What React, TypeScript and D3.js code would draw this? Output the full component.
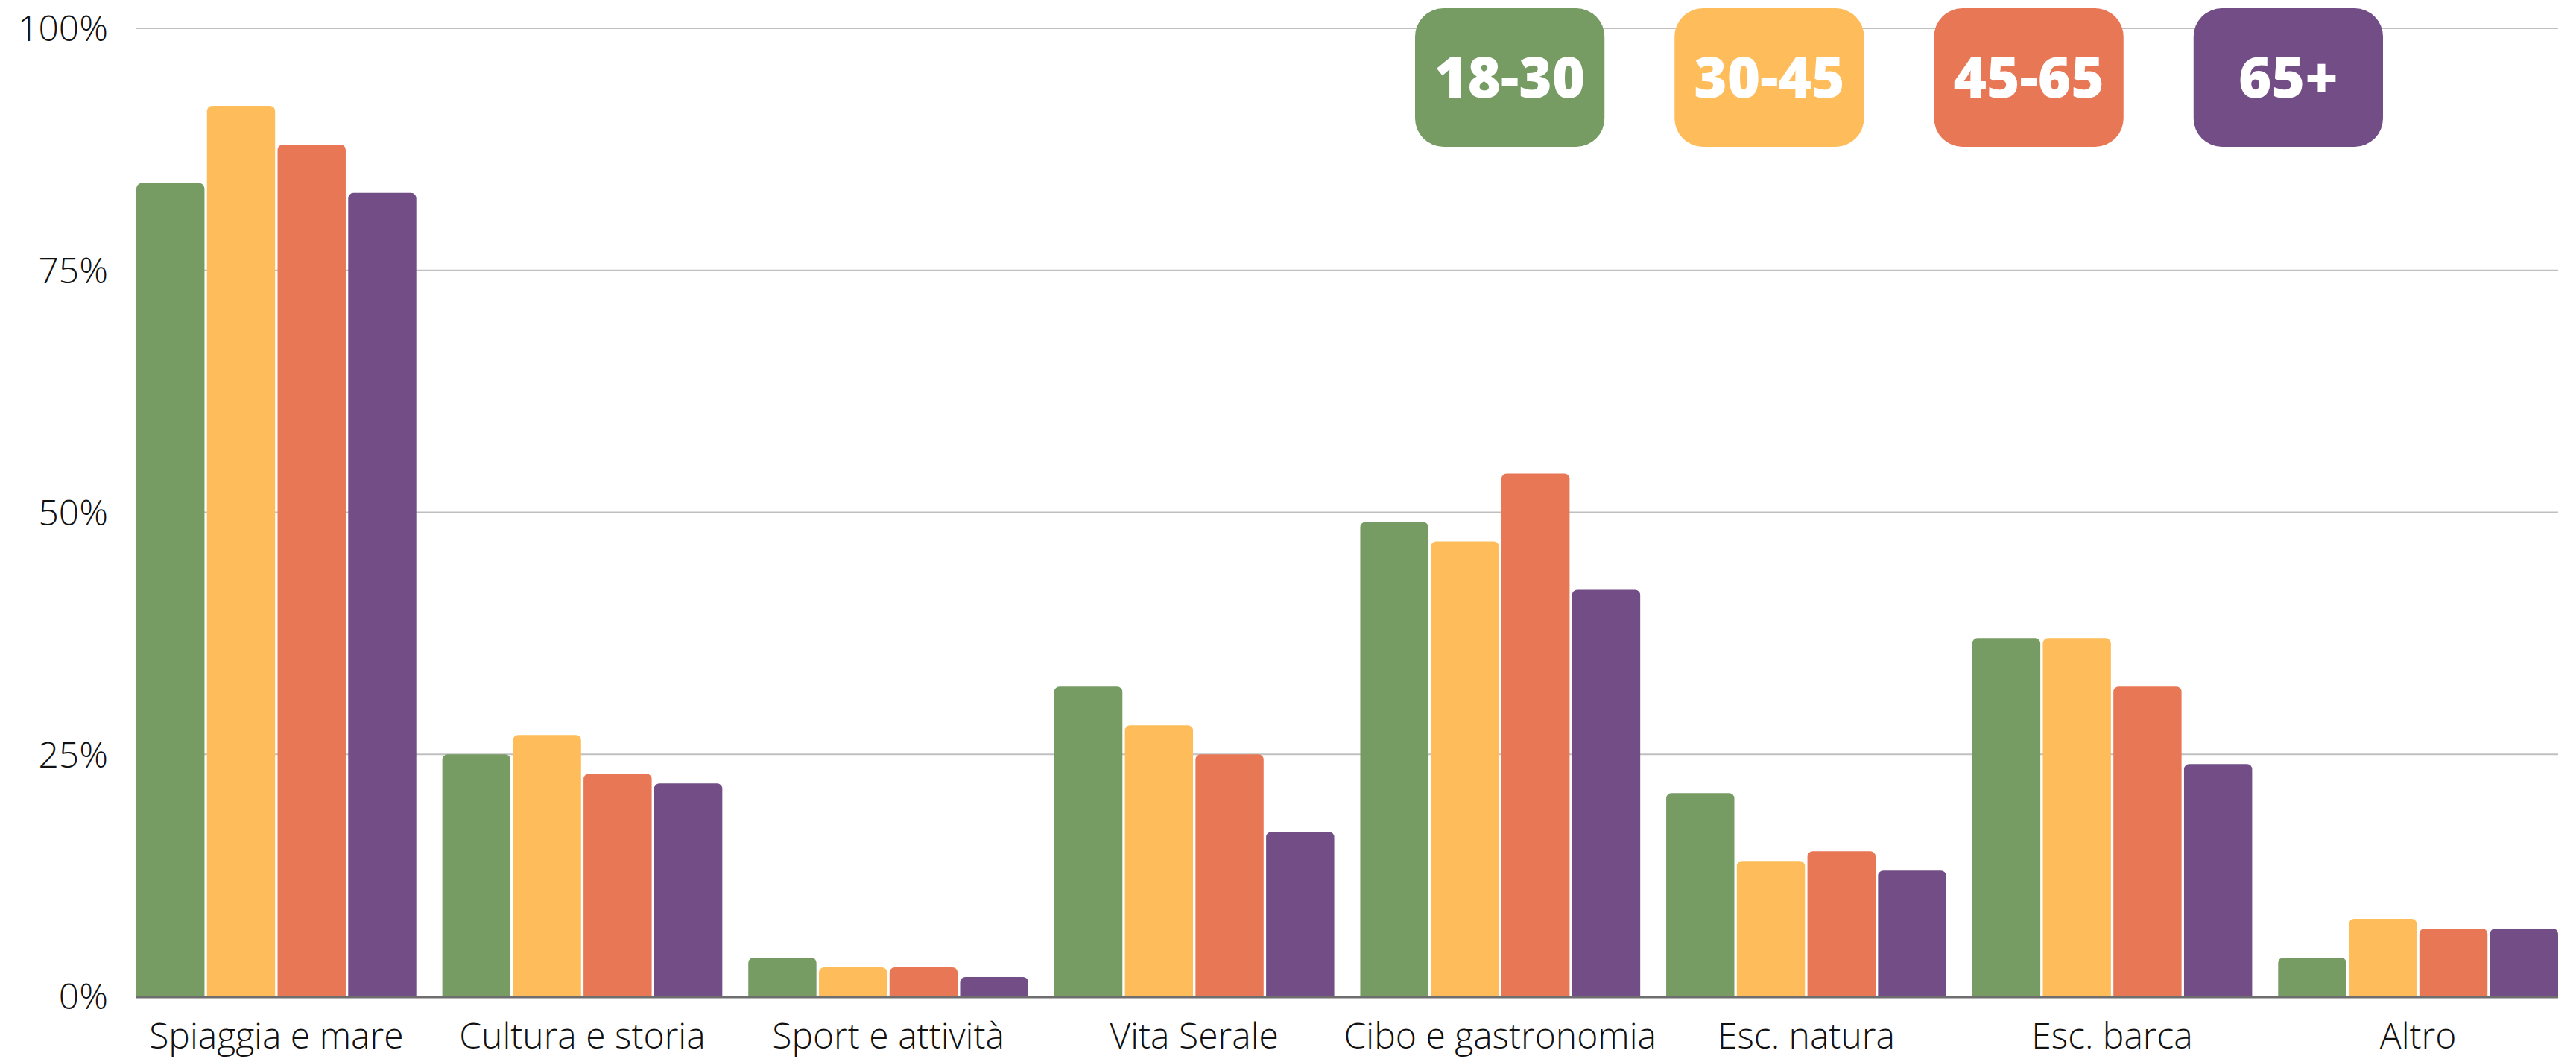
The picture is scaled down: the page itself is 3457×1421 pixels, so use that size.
import React, { useEffect, useRef } from "react";
import * as d3 from "d3";

const categories = [
  "Spiaggia e mare",
  "Cultura e storia",
  "Sport e attività",
  "Vita Serale",
  "Cibo e gastronomia",
  "Esc. natura",
  "Esc. barca",
  "Altro",
];
const ageGroups = ["18-30", "30-45", "45-65", "65+"];
const values1830 = [84, 25, 4, 32, 49, 21, 37, 4];
const values3045 = [92, 27, 3, 28, 47, 14, 37, 8];
const values4565 = [88, 23, 3, 25, 54, 15, 32, 7];
const values65 = [83, 22, 2, 17, 42, 13, 24, 7];
const yTicks = [0, 25, 50, 75, 100];
const colors = ["#769c64", "#febd5a", "#e87755", "#724d86"];

const App = () => {
  const svgRef = useRef<SVGSVGElement>(null);

  useEffect(() => {
    const width = 3457;
    const height = 1421;
    const margin = { top: 38, right: 24, bottom: 84, left: 183 };
    const series = [values1830, values3045, values4565, values65];

    const svg = d3.select(svgRef.current);
    svg.selectAll("*").remove();

    const x0 = d3
      .scaleBand()
      .domain(categories)
      .range([margin.left, width - margin.right])
      .paddingInner(0.085)
      .paddingOuter(0);
    const x1 = d3
      .scaleBand()
      .domain(ageGroups)
      .range([0, x0.bandwidth()])
      .paddingInner(0.035);
    const y = d3
      .scaleLinear()
      .domain([0, 100])
      .range([height - margin.bottom, margin.top]);

    // gridlines
    svg
      .append("g")
      .selectAll("line")
      .data(yTicks.filter((t) => t > 0))
      .enter()
      .append("line")
      .attr("x1", margin.left)
      .attr("x2", width - margin.right)
      .attr("y1", (d) => y(d))
      .attr("y2", (d) => y(d))
      .attr("stroke", "#c0c0c0")
      .attr("stroke-width", 2);

    // y tick labels
    svg
      .append("g")
      .selectAll("text")
      .data(yTicks)
      .enter()
      .append("text")
      .attr("x", margin.left - 38)
      .attr("y", (d) => y(d))
      .attr("dy", "0.36em")
      .attr("text-anchor", "end")
      .style("font-family", "'Open Sans', sans-serif")
      .style("font-weight", 300)
      .style("font-size", "48px")
      .attr("fill", "#111")
      .text((d) => d + "%");

    // rounded-top bar path
    const barPath = (bx: number, by: number, bw: number, bh: number) => {
      const r = Math.min(7, bh, bw / 2);
      const p = d3.path();
      p.moveTo(bx, by + bh);
      p.lineTo(bx, by + r);
      p.arcTo(bx, by, bx + r, by, r);
      p.lineTo(bx + bw - r, by);
      p.arcTo(bx + bw, by, bx + bw, by + r, r);
      p.lineTo(bx + bw, by + bh);
      p.closePath();
      return p.toString();
    };

    const groups = svg
      .append("g")
      .selectAll("g")
      .data(categories)
      .enter()
      .append("g")
      .attr("transform", (d) => `translate(${x0(d)},0)`);

    groups
      .selectAll("path")
      .data((d, i) => ageGroups.map((g, j) => ({ g, v: series[j][i], j })))
      .enter()
      .append("path")
      .attr("d", (d) =>
        barPath(x1(d.g)!, y(d.v), x1.bandwidth(), y(0) - y(d.v))
      )
      .attr("fill", (d) => colors[d.j]);

    // x axis line
    svg
      .append("line")
      .attr("x1", margin.left)
      .attr("x2", width - margin.right)
      .attr("y1", y(0) + 1)
      .attr("y2", y(0) + 1)
      .attr("stroke", "#6e6e6e")
      .attr("stroke-width", 3);

    // category labels
    svg
      .append("g")
      .selectAll("text")
      .data(categories)
      .enter()
      .append("text")
      .attr("x", (d) => x0(d)! + x0.bandwidth() / 2)
      .attr("y", y(0) + 70)
      .attr("text-anchor", "middle")
      .style("font-family", "'Open Sans', sans-serif")
      .style("font-weight", 300)
      .style("font-size", "48px")
      .attr("fill", "#111")
      .text((d) => d);

    // legend
    const legendX = d3
      .scaleBand()
      .domain(ageGroups)
      .range([1899, 3198])
      .paddingInner(0.27);
    const legend = svg
      .append("g")
      .selectAll("g")
      .data(ageGroups)
      .enter()
      .append("g")
      .attr("transform", (d) => `translate(${legendX(d)},11)`);
    legend
      .append("rect")
      .attr("width", legendX.bandwidth())
      .attr("height", 186)
      .attr("rx", 38)
      .attr("ry", 38)
      .attr("fill", (d, i) => colors[i]);
    legend
      .append("text")
      .attr("x", legendX.bandwidth() / 2)
      .attr("y", 93)
      .attr("dy", "0.36em")
      .attr("text-anchor", "middle")
      .style("font-family", "'Open Sans', sans-serif")
      .style("font-weight", 800)
      .style("font-size", "76px")
      .attr("fill", "#fff")
      .text((d) => d);
  }, []);

  return (
    <div style={{ position: "absolute", left: 0, top: 0 }}>
      <svg
        ref={svgRef}
        width="3457"
        height="1421"
        style={{ display: "block", background: "#fff" }}
      ></svg>
    </div>
  );
};

export default App;
